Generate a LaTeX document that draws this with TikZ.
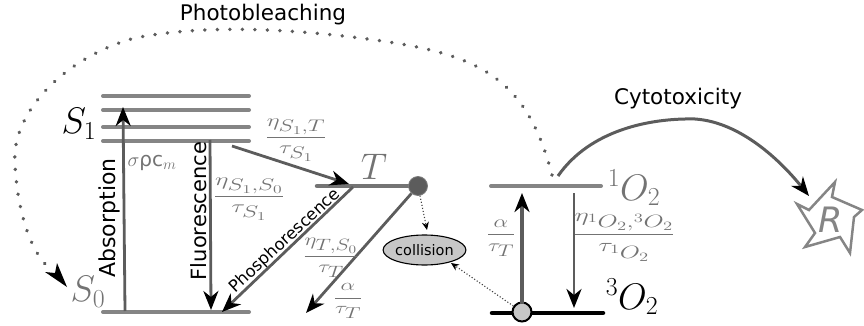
\RequirePackage{fix-cm}
\documentclass[tikz,border=0pt]{standalone}
\usepackage{amsmath}
\usepackage{graphicx}
\usepackage{fontspec}
\setmainfont{DejaVu Sans}
\usetikzlibrary{arrows.meta,shapes.geometric}
\definecolor{lvl}{gray}{0.52}
\definecolor{arr}{gray}{0.36}
\definecolor{mathg}{gray}{0.45}
\newcommand{\fs}[1]{\fontsize{#1}{#1}\selectfont}
\newcommand{\rate}[4]{\scalebox{#1}[#2]{$\displaystyle\frac{#3}{#4}$}}
\DeclareMathSizes{22}{22}{21}{15}
\DeclareMathSizes{20}{20}{15}{12}
\tikzset{
  level/.style={line width=4pt,draw=lvl,line cap=round},
  bighead/.style={-{Stealth[length=19pt,width=15pt,inset=6pt,color=black]}},
  conn/.style={draw=arr,line width=2.8pt,bighead},
  lab/.style={inner sep=0pt,black,font=\fs{21.5}},
  frac/.style={inner sep=0pt,mathg,font=\fs{22}},
  big/.style={inner sep=0pt,font=\fs{37}},
  dotline/.style={draw=arr,line width=3.8pt,line cap=round,dash pattern=on 0.01pt off 12.5pt},
  thindot/.style={draw=black!75,line width=1.1pt,dotted,-{Stealth[length=8pt,width=7pt,color=black]}}
}
\begin{document}
\begin{tikzpicture}[x=1pt,y=-1pt]
\useasboundingbox (0,0) rectangle (864,326);
% levels
\draw[level] (103,96) -- (249,96);
\draw[level] (103,110) -- (249,110);
\draw[level] (103,127) -- (249,127);
\draw[level] (103,141) -- (249,141);
\draw[level] (103,312) -- (249,312);
\draw[draw=arr!85,line width=4.5pt,line cap=round] (317,186) -- (415,186);
\draw[level] (491,186) -- (601,186);
\draw[line width=4.5pt,line cap=round] (492,313) -- (603,313);
% named anchors
\coordinate (absA) at (125,311);
\coordinate (absB) at (123,107);
\coordinate (fluA) at (210,140);
\coordinate (fluB) at (211,310);
\coordinate (iscA) at (232,146);
\coordinate (iscB) at (349,184);
\coordinate (phoA) at (353,187);
\coordinate (phoB) at (222,312);
\coordinate (alpB) at (306,313);
\coordinate (upA) at (522,304);
\coordinate (upB) at (522,193);
\coordinate (dnA) at (574,193);
\coordinate (dnB) at (574,308);
\coordinate (cytA) at (558,176);
\coordinate (cytB) at (809,196);
\coordinate (pbA) at (552,175);
\coordinate (collT) at (427,230);
\coordinate (collB) at (451,263);
% circles and ellipse
\node[circle,fill=arr,draw=arr!80,line width=.8pt,minimum size=19pt,inner sep=0pt] (tdot) at (418,186) {};
\node[circle,fill=black!22,draw=black,line width=2pt,minimum size=19pt,inner sep=0pt] (odot) at (522,312) {};
\node[ellipse,fill=black!22,draw=black,line width=1.1pt,minimum width=67pt,minimum height=30pt,inner sep=0pt,font=\fs{14.5}] (coll) at (424.5,250) {collision};
% connectors
\draw[conn] (absA) -- (absB);
\draw[conn] (fluA) -- (fluB);
\draw[conn] (iscA) -- (iscB);
\draw[conn] (phoA) -- (phoB);
\draw[conn] (tdot) -- (alpB);
\draw[conn,line width=3.6pt] (upA) -- (upB);
\draw[conn] (dnA) -- (dnB);
\draw[thindot] (tdot) -- (collT);
\draw[thindot] (odot) -- (collB);
\draw[conn,line width=3pt] (cytA) .. controls (590,130) and (650,118) .. (695,119) .. controls (740,122) and (780,160) .. (cytB);
\draw[dotline] (pbA) .. controls (525,70) and (470,52) .. (360,38) .. controls (280,28) and (200,25) .. (135,38) .. controls (70,55) and (10,110) .. (15,165) .. controls (18,220) and (35,258) .. (50,268);
\draw[draw=none,fill=black] (45,272) -- (55,273) -- (57,263) -- (67,287) -- cycle;
% star
\node[inner sep=0pt,font=\fs{35}\itshape,text=lvl] (rn) at (831,220) {R};
\draw[draw=lvl,line width=2.5pt,line join=miter] (835,182) -- (832,197) -- (862,210) -- (854,217) -- (850,253) -- (840,237) -- (805,247) -- (815,233) -- (797,204) -- (809,210) -- cycle;
% big labels
\node[big] (s1) at (79,124) {$S_1$};
\node[big,text=mathg] (s0) at (88,292) {$S_0$};
\node[big,text=mathg] (tl) at (374,167) {$T$};
\node[big,text=mathg] (o1) at (634,188) {$^1O_2$};
\node[big] (o3) at (632,297) {$^3O_2$};
% text
\node[lab] (pb) at (263,15) {Photobleaching};
\node[lab] (cy) at (678,99) {Cytotoxicity};
\node[lab,rotate=90,font=\fs{22}] (ab) at (109,218) {Absorption};
\node[lab,rotate=90,font=\fs{21}] (fl) at (199,211) {Fluorescence};
\node[lab,rotate=43,font=\fs{16.5}] (ph) at (285,241) {Phosphorescence};
% rates
\node[frac,font=\fs{20}] (r1) at (152,163) {$\sigma\mbox{\fs{20}ρ}\mathrm{c}_m$};
\node[frac] (r2) at (296,140) {\rate{1.12}{0.8}{\eta_{S_1,T}}{\tau_{S_1}}};
\node[frac] (r3) at (249,199) {\rate{1.17}{0.8}{\eta_{S_1,S_0}}{\tau_{S_1}}};
\node[frac] (r4) at (331,258) {\rate{1.03}{0.78}{\eta_{T,S_0}}{\tau_{T}}};
\node[frac] (r5) at (348,301) {\rate{1.05}{0.75}{\alpha}{\tau_{T}}};
\node[frac] (r6) at (501,238) {\rate{1.05}{0.8}{\alpha}{\tau_{T}}};
\node[frac] (r7) at (624,237) {\rate{1.24}{0.85}{\eta_{{}^1O_2,{}^3O_2}}{\tau_{{}^1O_2}}};
\end{tikzpicture}
\end{document}
